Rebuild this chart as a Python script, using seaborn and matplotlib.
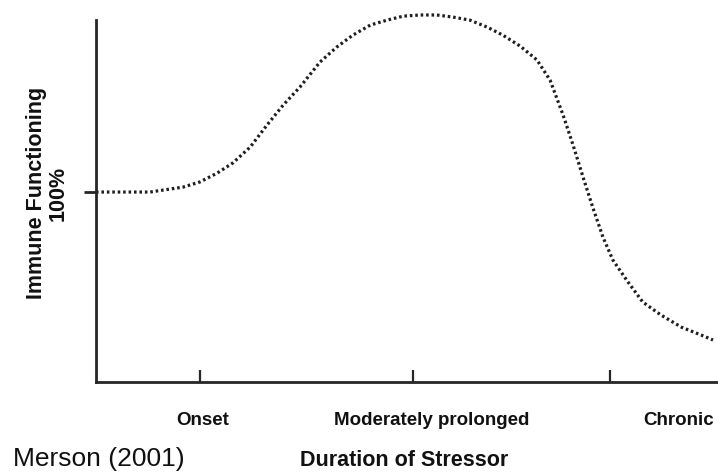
import matplotlib
matplotlib.use("Agg")
import matplotlib.pyplot as plt
import seaborn as sns
import pandas as pd

# Duration of stressor (arbitrary time units, 0-100) and immune functioning (% of baseline)
duration = [0, 5.5, 8.7, 14.0, 16.7, 19.5, 22.0, 24.8, 27.5, 30.1, 32.8, 36.0, 38.7,
            41.3, 44.1, 46.8, 49.4, 52.1, 54.8, 57.4, 60.1, 62.9, 65.4, 68.2, 70.9,
            73.0, 75.1, 76.7, 78.3, 79.9, 81.5, 83.1, 85.4, 87.9, 90.8, 94.1, 97.3, 99.2]
immune = [100, 100, 100, 102.6, 105.3, 110.0, 115.3, 123.7, 135.3, 145.8, 155.3, 168.4,
          176.3, 182.6, 187.9, 190.5, 192.6, 193.2, 193.2, 192.1, 190.5, 186.8, 182.6,
          176.8, 169.5, 158.9, 140.5, 124.7, 107.9, 91.6, 76.3, 64.2, 53.2, 42.1, 35.3,
          28.9, 24.7, 22.1]

stages = ["Onset", "Moderately prolonged", "Chronic"]
stage_ticks = [16.7, 51.0, 82.6]
stage_label_x = [17.2, 54.0, 93.6]

df = pd.DataFrame({"duration": duration, "immune": immune})

sns.set_style("white")
plt.rcParams["font.family"] = ["Liberation Sans", "DejaVu Sans"]

fig = plt.figure(figsize=(7.18, 4.72), dpi=100)
ax = fig.add_axes([0.1337, 0.1907, 0.8663, 0.788])

sns.lineplot(data=df, x="duration", y="immune", ax=ax, color="#1e1e1e",
             linewidth=2.3, linestyle=(0, (0.8, 0.9)), estimator=None, sort=False,
             solid_joinstyle="round", dash_joinstyle="round")

ax.set_xlim(0, 100)
ax.set_ylim(0, 195.8)
for s in ["top", "right"]:
    ax.spines[s].set_visible(False)
for s in ["left", "bottom"]:
    ax.spines[s].set_linewidth(2.0)
    ax.spines[s].set_color("#262626")
ax.spines["left"].set_bounds(0, 190.5)

ax.set_xticks(stage_ticks)
ax.set_xticklabels([])
ax.tick_params(axis="x", direction="in", length=8.5, width=1.6, color="#262626", bottom=True)
ax.set_yticks([100])
ax.set_yticklabels([])
ax.tick_params(axis="y", direction="out", length=9, width=2.0, color="#262626", left=True)
ax.set_xlabel("")
ax.set_ylabel("")

xt = ax.get_xaxis_transform()
for lab, xp in zip(stages, stage_label_x):
    ax.text(xp, -0.1156, lab, transform=xt, ha="center", va="baseline",
            fontsize=13.5, fontweight="bold", color="#111111", clip_on=False)

fig.text(0.066, 0.591, "Immune Functioning\n100%", rotation=90, ha="center", va="center",
         multialignment="center", fontsize=15.5, fontweight="bold", color="#111111",
         linespacing=1.05)
fig.text(0.5627, 0.012, "Duration of Stressor", ha="center", va="baseline",
         fontsize=15.5, fontweight="bold", color="#111111")
fig.text(0.0181, 0.0125, "Merson (2001)", ha="left", va="baseline",
         fontsize=19, color="#111111")

fig.savefig("out.png", dpi=100)
